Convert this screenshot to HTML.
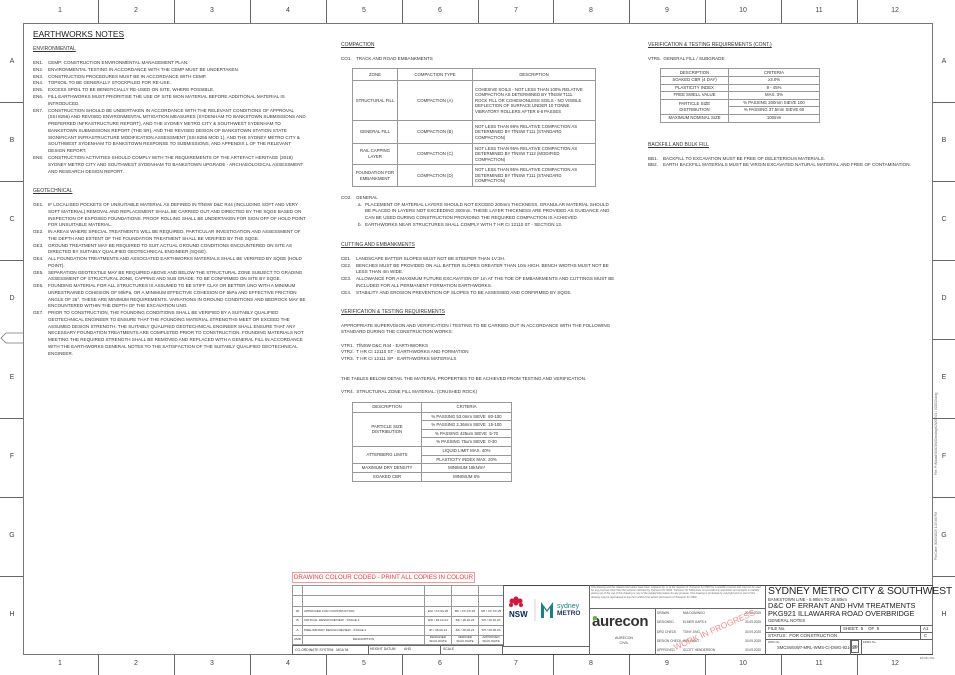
<!DOCTYPE html>
<html><head><meta charset="utf-8"><style>
*{margin:0;padding:0;box-sizing:border-box}
body{width:955px;height:675px;background:#fff;position:relative;overflow:hidden;font-family:"Liberation Sans",sans-serif;color:#333}
.a{position:absolute;white-space:nowrap}
.h{font-size:5px;text-decoration:underline}
.it{position:absolute;font-size:4.55px;line-height:6.75px;white-space:nowrap}
.it b{font-weight:normal;position:absolute;left:-15px}
.ln{position:absolute;background:#666}
table{border-collapse:collapse;position:absolute;font-size:4.3px;line-height:5.6px}
td{border:0.8px solid #999;text-align:center;vertical-align:middle;padding:0 2px}
td.l{text-align:left}
.rv{table-layout:fixed}
.rv td{white-space:nowrap;overflow:hidden;padding:0 1px}
.num{position:absolute;font-size:7px;color:#444;width:20px;text-align:center}
</style></head><body>
<div class="a" style="left:23px;top:23px;width:910px;height:632px;border:1.3px solid #777"></div>
<div class="ln" style="left:98px;top:0;width:1px;height:23px"></div><div class="ln" style="left:174px;top:0;width:1px;height:23px"></div><div class="ln" style="left:250px;top:0;width:1px;height:23px"></div><div class="ln" style="left:326px;top:0;width:1px;height:23px"></div><div class="ln" style="left:402px;top:0;width:1px;height:23px"></div><div class="ln" style="left:478px;top:0;width:1px;height:23px"></div><div class="ln" style="left:553px;top:0;width:1px;height:23px"></div><div class="ln" style="left:629px;top:0;width:1px;height:23px"></div><div class="ln" style="left:705px;top:0;width:1px;height:23px"></div><div class="ln" style="left:781px;top:0;width:1px;height:23px"></div><div class="ln" style="left:857px;top:0;width:1px;height:23px"></div>
<div class="ln" style="left:98px;top:655px;width:1px;height:20px"></div><div class="ln" style="left:174px;top:655px;width:1px;height:20px"></div><div class="ln" style="left:250px;top:655px;width:1px;height:20px"></div><div class="ln" style="left:326px;top:655px;width:1px;height:20px"></div><div class="ln" style="left:402px;top:655px;width:1px;height:20px"></div><div class="ln" style="left:478px;top:655px;width:1px;height:20px"></div><div class="ln" style="left:553px;top:655px;width:1px;height:20px"></div><div class="ln" style="left:629px;top:655px;width:1px;height:20px"></div><div class="ln" style="left:705px;top:655px;width:1px;height:20px"></div><div class="ln" style="left:781px;top:655px;width:1px;height:20px"></div><div class="ln" style="left:857px;top:655px;width:1px;height:20px"></div>
<div class="ln" style="left:0;top:102px;width:23px;height:1px"></div><div class="ln" style="left:0;top:181px;width:23px;height:1px"></div><div class="ln" style="left:0;top:260px;width:23px;height:1px"></div><div class="ln" style="left:0;top:418px;width:23px;height:1px"></div><div class="ln" style="left:0;top:497px;width:23px;height:1px"></div><div class="ln" style="left:0;top:576px;width:23px;height:1px"></div>
<div class="ln" style="left:933px;top:102px;width:22px;height:1px"></div><div class="ln" style="left:933px;top:181px;width:22px;height:1px"></div><div class="ln" style="left:933px;top:260px;width:22px;height:1px"></div><div class="ln" style="left:933px;top:339px;width:22px;height:1px"></div><div class="ln" style="left:933px;top:418px;width:22px;height:1px"></div><div class="ln" style="left:933px;top:497px;width:22px;height:1px"></div><div class="ln" style="left:933px;top:576px;width:22px;height:1px"></div>
<svg class="a" style="left:0;top:332px" width="24" height="12"><path d="M23 1 H6 L1 6 L6 11 H23" fill="none" stroke="#777" stroke-width="0.8"/></svg>
<div class="num" style="left:50px;top:7px">1</div><div class="num" style="left:126px;top:7px">2</div><div class="num" style="left:202px;top:7px">3</div><div class="num" style="left:278px;top:7px">4</div><div class="num" style="left:354px;top:7px">5</div><div class="num" style="left:430px;top:7px">6</div><div class="num" style="left:506px;top:7px">7</div><div class="num" style="left:581px;top:7px">8</div><div class="num" style="left:657px;top:7px">9</div><div class="num" style="left:733px;top:7px">10</div><div class="num" style="left:809px;top:7px">11</div><div class="num" style="left:885px;top:7px">12</div>
<div class="num" style="left:50px;top:660px">1</div><div class="num" style="left:126px;top:660px">2</div><div class="num" style="left:202px;top:660px">3</div><div class="num" style="left:278px;top:660px">4</div><div class="num" style="left:354px;top:660px">5</div><div class="num" style="left:430px;top:660px">6</div><div class="num" style="left:506px;top:660px">7</div><div class="num" style="left:581px;top:660px">8</div><div class="num" style="left:657px;top:660px">9</div><div class="num" style="left:733px;top:660px">10</div><div class="num" style="left:809px;top:660px">11</div><div class="num" style="left:885px;top:660px">12</div>
<div class="num" style="left:2px;top:58px">A</div><div class="num" style="left:2px;top:137px">B</div><div class="num" style="left:2px;top:216px">C</div><div class="num" style="left:2px;top:295px">D</div><div class="num" style="left:2px;top:374px">E</div><div class="num" style="left:2px;top:453px">F</div><div class="num" style="left:2px;top:532px">G</div><div class="num" style="left:2px;top:611px">H</div>
<div class="num" style="left:934px;top:58px">A</div><div class="num" style="left:934px;top:137px">B</div><div class="num" style="left:934px;top:216px">C</div><div class="num" style="left:934px;top:295px">D</div><div class="num" style="left:934px;top:374px">E</div><div class="num" style="left:934px;top:453px">F</div><div class="num" style="left:934px;top:532px">G</div><div class="num" style="left:934px;top:611px">H</div>
<div class="a" style="left:934px;font-size:3.2px;color:#666;transform:rotate(-90deg);transform-origin:0 0;top:475px">File: P:\Ndoad\SMCSW\Drawings\DWG 921 \ 921013.dwg</div>
<div class="a" style="left:934px;top:560px;font-size:3.2px;color:#666;transform:rotate(-90deg);transform-origin:0 0">Plot Date: 30/09/2025 1:25:46 PM</div>

<div class="a" style="left:33px;top:29px;font-size:8.4px;text-decoration:underline;color:#222">EARTHWORKS NOTES</div>
<div class="a h" style="left:33px;top:46px">ENVIRONMENTAL</div>
<div class="it" style="left:48px;top:60px"><b>EN1.</b>CEMP: CONSTRUCTION ENVIRONMENTAL MANAGEMENT PLAN.</div>
<div class="it" style="left:48px;top:66.8px"><b>EN2.</b>ENVIRONMENTAL TESTING IN ACCORDANCE WITH THE CEMP MUST BE UNDERTAKEN.</div>
<div class="it" style="left:48px;top:73.6px"><b>EN3.</b>CONSTRUCTION PROCEDURES MUST BE IN ACCORDANCE WITH CEMP.</div>
<div class="it" style="left:48px;top:80.4px"><b>EN4.</b>TOPSOIL TO BE GENERALLY STOCKPILED FOR RE-USE.</div>
<div class="it" style="left:48px;top:87.2px"><b>EN5.</b>EXCESS SPOIL TO BE BENEFICIALLY RE-USED ON SITE, WHERE POSSIBLE.</div>
<div class="it" style="left:48px;top:94px"><b>EN6.</b>FILL EARTHWORKS MUST PRIORITISE THE USE OF SITE WON MATERIAL BEFORE ADDITIONAL MATERIAL IS<br>INTRODUCED.</div>
<div class="it" style="left:48px;top:107.5px"><b>EN7.</b>CONSTRUCTION SHOULD BE UNDERTAKEN IN ACCORDANCE WITH THE RELEVANT CONDITIONS OF APPROVAL<br>(SSI 8256) AND REVISED ENVIRONMENTAL MITIGATION MEASURES (SYDENHAM TO BANKSTOWN SUBMISSIONS AND<br>PREFERRED INFRASTRUCTURE REPORT), AND THE SYDNEY METRO CITY &amp; SOUTHWEST SYDENHAM TO<br>BANKSTOWN SUBMISSIONS REPORT (THE SR), AND THE REVISED DESIGN OF BANKSTOWN STATION STATE<br>SIGNIFICANT INFRASTRUCTURE MODIFICATION ASSESSMENT (SSI 8256 MOD 1), AND THE SYDNEY METRO CITY &amp;<br>SOUTHWEST SYDENHAM TO BANKSTOWN RESPONSE TO SUBMISSIONS, AND APPENDIX L OF THE RELEVANT<br>DESIGN REPORT.</div>
<div class="it" style="left:48px;top:155px"><b>EN8.</b>CONSTRUCTION ACTIVITIES SHOULD COMPLY WITH THE REQUIREMENTS OF THE ARTEFACT HERITAGE (2018)<br>SYDNEY METRO CITY AND SOUTHWEST SYDENHAM TO BANKSTOWN UPGRADE - ARCHAEOLOGICAL ASSESSMENT<br>AND RESEARCH DESIGN REPORT.</div>
<div class="a h" style="left:33px;top:188px">GEOTECHNICAL</div>
<div class="it" style="left:48px;top:202px"><b>GE1.</b>IF LOCALISED POCKETS OF UNSUITABLE MATERIAL AS DEFINED IN TfNSW D&amp;C R44 (INCLUDING SOFT AND VERY<br>SOFT MATERIAL) REMOVAL AND REPLACEMENT SHALL BE CARRIED OUT AND DIRECTED BY THE SQGE BASED ON<br>INSPECTION OF EXPOSED FOUNDATIONS. PROOF ROLLING SHALL BE UNDERTAKEN FOR SIGN OFF OF HOLD POINT<br>FOR UNSUITABLE MATERIAL.</div>
<div class="it" style="left:48px;top:229px"><b>GE2.</b>IN AREAS WHERE SPECIAL TREATMENTS WILL BE REQUIRED, PARTICULAR INVESTIGATION AND ASSESSMENT OF<br>THE DEPTH AND EXTENT OF THE FOUNDATION TREATMENT SHALL BE VERIFIED BY THE SQGE.</div>
<div class="it" style="left:48px;top:242.5px"><b>GE3.</b>GROUND TREATMENT MAY BE REQUIRED TO SUIT ACTUAL GROUND CONDITIONS ENCOUNTERED ON SITE AS<br>DIRECTED BY SUITABLY QUALIFIED GEOTECHNICAL ENGINEER (SQGE).</div>
<div class="it" style="left:48px;top:256px"><b>GE4.</b>ALL FOUNDATION TREATMENTS AND ASSOCIATED EARTHWORKS MATERIALS SHALL BE VERIFIED BY SQGE (HOLD<br>POINT).</div>
<div class="it" style="left:48px;top:269.5px"><b>GE5.</b>SEPARATION GEOTEXTILE MAY BE REQUIRED ABOVE AND BELOW THE STRUCTURAL ZONE SUBJECT TO GRADING<br>ASSESSMENT OF STRUCTURAL ZONE, CAPPING AND SUB GRADE. TO BE CONFIRMED ON SITE BY SQGE.</div>
<div class="it" style="left:48px;top:283px"><b>GE6.</b>FOUNDING MATERIAL FOR ALL STRUCTURES IS ASSUMED TO BE STIFF CLAY OR BETTER UNO WITH A MINIMUM<br>UNRESTRAINED COHESION OF 50kPa, OR A MINIMUM EFFECTIVE COHESION OF 5kPa AND EFFECTIVE FRICTION<br>ANGLE OF 26°. THESE ARE MINIMUM REQUIREMENTS. VARIATIONS IN GROUND CONDITIONS AND BEDROCK MAY BE<br>ENCOUNTERED WITHIN THE DEPTH OF THE EXCAVATION UNO.</div>
<div class="it" style="left:48px;top:310px"><b>GE7.</b>PRIOR TO CONSTRUCTION, THE FOUNDING CONDITIONS SHALL BE VERIFIED BY A SUITABLY QUALIFIED<br>GEOTECHNICAL ENGINEER TO ENSURE THAT THE FOUNDING MATERIAL STRENGTHS MEET OR EXCEED THE<br>ASSUMED DESIGN STRENGTH. THE SUITABLY QUALIFIED GEOTECHNICAL ENGINEER SHALL ENSURE THAT ANY<br>NECESSARY FOUNDATION TREATMENTS ARE COMPLETED PRIOR TO CONSTRUCTION. FOUNDING MATERIALS NOT<br>MEETING THE REQUIRED STRENGTH SHALL BE REMOVED AND REPLACED WITH A GENERAL FILL IN ACCORDANCE<br>WITH THE EARTHWORKS GENERAL NOTES TO THE SATISFACTION OF THE SUITABLY QUALIFIED GEOTECHNICAL<br>ENGINEER.</div>

<div class="a h" style="left:341px;top:42px">COMPACTION</div>
<div class="it" style="left:356px;top:56px"><b>CO1.</b>TRACK AND ROAD EMBANKMENTS</div>
<table style="left:352px;top:68px;width:244px">
<tr style="height:12px"><td style="width:45px">ZONE</td><td style="width:75px">COMPACTION TYPE</td><td>DESCRIPTION</td></tr>
<tr style="height:40px"><td>STRUCTURAL FILL</td><td>COMPACTION (A)</td><td class="l">COHESIVE SOILS - NOT LESS THAN 100% RELATIVE<br>COMPACTION AS DETERMINED BY TfNSW T111.<br>ROCK FILL OR COHESIONLESS SOILS - NO VISIBLE<br>DEFLECTION OF SURFACE UNDER 10 TONNE<br>VIBRATORY ROLLERS AFTER 6-8 PASSES</td></tr>
<tr style="height:23px"><td>GENERAL FILL</td><td>COMPACTION (B)</td><td class="l">NOT LESS THAN 98% RELATIVE COMPACTION AS<br>DETERMINED BY TfNSW T111 (STANDARD<br>COMPACTION)</td></tr>
<tr style="height:21px"><td>RAIL CAPPING<br>LAYER</td><td>COMPACTION (C)</td><td class="l">NOT LESS THAN 95% RELATIVE COMPACTION AS<br>DETERMINED BY TfNSW T112 (MODIFIED<br>COMPACTION)</td></tr>
<tr style="height:22px"><td>FOUNDATION FOR<br>EMBANKMENT</td><td>COMPACTION (D)</td><td class="l">NOT LESS THAN 95% RELATIVE COMPACTION AS<br>DETERMINED BY TfNSW T111 (STANDARD<br>COMPACTION)</td></tr>
</table>
<div class="it" style="left:356px;top:195px"><b>CO2.</b>GENERAL</div>
<div class="it" style="left:365px;top:201.5px"><b style="left:-7px">a.</b>PLACEMENT OF  MATERIAL LAYERS SHOULD NOT EXCEED 200mm THICKNESS. GRANULAR MATERIAL SHOULD<br>BE PLACED IN LAYERS NOT EXCEEDING 300mm. THESE LAYER THICKNESS ARE PROVIDED AS GUIDANCE AND<br>CAN BE USED DURING CONSTRUCTION PROVIDING THE REQUIRED COMPACTION IS ACHIEVED.</div>
<div class="it" style="left:365px;top:221.5px"><b style="left:-7px">b.</b>EARTHWORKS NEAR STRUCTURES SHALL COMPLY WITH T HR CI 12110 ST - SECTION 13.</div>
<div class="a h" style="left:341px;top:242px">CUTTING AND EMBANKMENTS</div>
<div class="it" style="left:356px;top:256px"><b>CE1.</b>LANDSCAPE BATTER SLOPES MUST NOT BE  STEEPER THAN 1V:3H.</div>
<div class="it" style="left:356px;top:262.7px"><b>CE2.</b>BENCHES MUST BE PROVIDED ON ALL BATTER SLOPES GREATER THAN 10m HIGH. BENCH WIDTHS MUST NOT BE<br>LESS THAN 4m WIDE.</div>
<div class="it" style="left:356px;top:276px"><b>CE3.</b>ALLOWANCE FOR A MAXIMUM FUTURE EXCAVATION OF 1m AT THE TOE OF EMBANKMENTS AND CUTTINGS MUST BE<br>INCLUDED FOR ALL PERMANENT FORMATION EARTHWORKS.</div>
<div class="it" style="left:356px;top:289.5px"><b>CE4.</b>STABILITY AND EROSION PREVENTION OF SLOPES TO BE ASSESSED AND CONFIRMED BY SQGE.</div>
<div class="a h" style="left:341px;top:309px">VERIFICATION &amp; TESTING REQUIREMENTS</div>
<div class="it" style="left:341px;top:322.5px">APPROPRIATE SUPERVISION AND VERIFICATION / TESTING TO BE CARRIED OUT IN ACCORDANCE WITH THE FOLLOWING<br>STANDARD DURING THE CONSTRUCTION WORKS:</div>
<div class="it" style="left:341px;top:342.5px">VTR1.&nbsp; TfNSW D&amp;C R44 - EARTHWORKS<br>VTR2.&nbsp; T HR CI 12110 ST - EARTHWORKS AND FORMATION<br>VTR3.&nbsp; T HR CI 12111 SP - EARTHWORKS MATERIALS</div>
<div class="it" style="left:341px;top:376px">THE TABLES BELOW DETAIL THE MATERIAL PROPERTIES TO BE ACHIEVED FROM TESTING AND VERIFICATION.</div>
<div class="it" style="left:341px;top:389px">VTR4.&nbsp; STRUCTURAL ZONE FILL MATERIAL: (CRUSHED ROCK)</div>
<table style="left:352px;top:402px;width:160px">
<tr style="height:9.5px"><td style="width:69px">DESCRIPTION</td><td>CRITERIA</td></tr>
<tr style="height:8.6px"><td rowspan="4">PARTICLE SIZE<br>DISTRIBUTION</td><td>% PASSING 53.0mm SIEVE&nbsp; 80-100</td></tr>
<tr style="height:8.6px"><td>% PASSING 2.36mm SIEVE&nbsp; 15-100</td></tr>
<tr style="height:8.6px"><td>% PASSING 425um SIEVE&nbsp; 5-70</td></tr>
<tr style="height:8.6px"><td>% PASSING 75um SIEVE&nbsp; 0-30</td></tr>
<tr style="height:8.8px"><td rowspan="2">ATTERBERG LIMITS</td><td>LIQUID LIMIT MAX. 40%</td></tr>
<tr style="height:8.8px"><td>PLASTICITY INDEX MAX. 20%</td></tr>
<tr style="height:8.6px"><td>MAXIMUM DRY DENSITY</td><td>MINIMUM 18kN/m³</td></tr>
<tr style="height:8.6px"><td>SOAKED CBR</td><td>MINIMUM 8%</td></tr>
</table>

<div class="a h" style="left:648px;top:42px">VERIFICATION &amp; TESTING REQUIREMENTS (CONT.)</div>
<div class="it" style="left:648px;top:56px">VTR5.&nbsp; GENERAL FILL / SUBGRADE</div>
<table style="left:660px;top:68px;width:160px">
<tr style="height:8px"><td style="width:68px">DESCRIPTION</td><td>CRITERIA</td></tr>
<tr style="height:7.5px"><td>SOAKED CBR (4 DAY)</td><td>≥3.0%</td></tr>
<tr style="height:7.5px"><td>PLASTICITY INDEX</td><td>9 - 45%</td></tr>
<tr style="height:7.5px"><td>FREE SWELL VALUE</td><td>MAX. 3%</td></tr>
<tr style="height:7.5px"><td rowspan="2">PARTICLE SIZE<br>DISTRIBUTION</td><td>% PASSING 200mm SIEVE 100</td></tr>
<tr style="height:7.5px"><td>% PASSING 37.5mm SIEVE 60</td></tr>
<tr style="height:8px"><td>MAXIMUM NOMINAL SIZE</td><td>100mm</td></tr>
</table>
<div class="a h" style="left:648px;top:142px">BACKFILL AND BULK FILL</div>
<div class="it" style="left:663px;top:155.5px"><b>BB1.</b>BACKFILL TO EXCAVATION MUST BE FREE OF DELETERIOUS MATERIALS.</div>
<div class="it" style="left:663px;top:162.3px"><b>BB2.</b>EARTH BACKFILL MATERIALS MUST BE VIRGIN EXCAVATED NATURAL MATERIAL AND FREE OF CONTAMINATION.</div>

<!-- TITLE BLOCK -->
<div class="a" style="left:292px;top:572px;width:183px;height:11px;border:0.8px solid #f29a9a;color:#e53b3b;font-size:6.2px;line-height:9.5px;text-align:center">DRAWING COLOUR CODED - PRINT ALL COPIES IN COLOUR</div>
<div class="a" style="left:292px;top:585px;width:641px;height:70px;border:1px solid #444;border-right:none"></div>
<table class="rv" style="left:292px;top:585px;width:211px;font-size:3.1px;line-height:3.5px">
<tr style="height:10px"><td style="width:10px"></td><td style="width:122px"></td><td style="width:27px"></td><td style="width:27px"></td><td style="width:25px"></td></tr>
<tr style="height:11px"><td></td><td></td><td></td><td></td><td></td></tr>
<tr style="height:9.5px"><td>00</td><td class="l">APPROVED FOR CONSTRUCTION</td><td>ESI / XX.09.25</td><td>BK / XX.XX.25</td><td>SH / XX.XX.25</td></tr>
<tr style="height:9.5px"><td>B</td><td class="l">CRITICAL DESIGN REVIEW - STAGE 3</td><td>ESI / 18.10.24</td><td>BK / 18.10.24</td><td>SH / 18.10.24</td></tr>
<tr style="height:9.5px"><td>A</td><td class="l">PRELIMINARY DESIGN REVIEW - STAGE 2</td><td>JK / 28.06.24</td><td>BK / 28.06.24</td><td>SH / 28.06.24</td></tr>
<tr style="height:9.5px"><td>AMD</td><td>DESCRIPTION</td><td>DESIGNED<br>SIGN./DATE</td><td>VERIFIED<br>SIGN./DATE</td><td>APPROVED<br>SIGN./DATE</td></tr>
</table>
<div class="a" style="left:292px;top:645px;width:211px;height:10px;border:0.8px solid #666;font-size:3.4px;line-height:9px;padding-left:2px">CO-ORDINATE SYSTEM&nbsp;&nbsp; MGA 94</div>
<div class="a" style="left:370px;top:645px;font-size:3.4px;line-height:9px">HEIGHT DATUM &nbsp;&nbsp;&nbsp;&nbsp;&nbsp;&nbsp;&nbsp;&nbsp;AHD</div>
<div class="a" style="left:443px;top:645px;font-size:3.4px;line-height:9px">SCALE</div>
<div class="ln" style="left:368px;top:645px;width:0.8px;height:10px"></div><div class="ln" style="left:440px;top:645px;width:0.8px;height:10px"></div>
<div class="ln" style="left:503px;top:585px;width:1px;height:62px"></div>
<div class="ln" style="left:503px;top:646px;width:86px;height:1px"></div>
<div class="ln" style="left:589px;top:585px;width:1px;height:70px"></div>
<svg class="a" style="left:505px;top:596px" width="82" height="28">
<g fill="#d7153a"><circle cx="7" cy="5" r="2.5"/><circle cx="11" cy="3" r="2.5"/><circle cx="15" cy="5" r="2.5"/><circle cx="11" cy="7" r="2.5"/><circle cx="6" cy="9" r="2"/><circle cx="16" cy="9" r="2"/></g>
<text x="4" y="21" font-family="Liberation Sans" font-weight="bold" font-size="8" fill="#002664">NSW</text>
<line x1="30" y1="3" x2="30" y2="25" stroke="#bbb" stroke-width="0.6"/>
<path d="M36 22 V6 L42 14 L48 6 V22 H45 V12 L42 16 L39 12 V22Z" fill="#168388"/>
<text x="52" y="12" font-family="Liberation Sans" font-size="7" fill="#168388">sydney</text>
<text x="52" y="19" font-family="Liberation Sans" font-weight="bold" font-size="6.5" fill="#1f2e55">METRO</text>
</svg>
<div class="a" style="left:591px;top:586px;width:172px;font-size:2.6px;line-height:3.2px;color:#666;white-space:normal;font-style:italic">This drawing and the related information have been prepared by, or at the request of, Transport for NSW for a specific purpose and may not be used for any purpose other than the purpose intended by Transport for NSW. Transport for NSW does not provide any warranties and accepts no liability arising out of the use of this drawing or any of the related information for any purpose. This drawing is protected by copyright and no part of this drawing may be reproduced in any form without the written permission of Transport for NSW.</div>
<div class="ln" style="left:589px;top:608px;width:176px;height:0.8px"></div>
<div class="a" style="left:592px;top:613px;font-size:15px;font-weight:bold;color:#333;letter-spacing:-0.3px">aurecon</div>
<div class="a" style="left:593px;top:616px;width:3.5px;height:3.5px;background:#6ab42d;border-radius:50%"></div>
<div class="a" style="left:615px;top:636px;font-size:3.6px;line-height:5px;text-align:center;color:#444">AURECON<br>CIVIL</div>
<div class="ln" style="left:655px;top:608px;width:0.8px;height:47px"></div>
<div class="a" style="left:657px;top:609px;font-size:3.2px;line-height:9.3px;color:#444">DRAWN<br>DESIGNED<br>DRG CHECK<br>DESIGN CHECK<br>APPROVED</div>
<div class="a" style="left:683px;top:609px;font-size:3.2px;line-height:9.3px;color:#444">MIA DOMINGO<br>ELMER GAPS II<br>TONY JING<br>WEI ZHAO<br>SCOTT HENDERSON</div>
<div class="a" style="left:745px;top:609px;font-size:3.2px;line-height:9.3px;color:#444">30.09.2025<br>30.09.2025<br>30.09.2025<br>30.09.2025<br>30.09.2025</div>
<div class="a" style="left:672px;font-size:8.5px;color:#f07a7a;transform:rotate(-24deg);transform-origin:0 0;top:643px;opacity:.85">WORK IN PROGRESS</div>
<div class="ln" style="left:765px;top:585px;width:1px;height:70px"></div>
<div class="a" style="left:768px;top:586px;font-size:10.4px;color:#222;letter-spacing:-0.15px">SYDNEY METRO CITY &amp; SOUTHWEST</div>
<div class="a" style="left:768px;top:597px;font-size:4.2px;color:#333">BANKSTOWN LINE - 5.90km TO 18.60km</div>
<div class="a" style="left:768px;top:602px;font-size:7.4px;line-height:8px;color:#222">D&amp;C OF ERRANT AND HVM TREATMENTS<br>PKG921 ILLAWARRA ROAD OVERBRIDGE</div>
<div class="a" style="left:768px;top:618px;font-size:4.4px;color:#333">GENERAL NOTES</div>
<div class="ln" style="left:765px;top:625px;width:168px;height:0.8px"></div>
<div class="ln" style="left:765px;top:632px;width:168px;height:0.8px"></div>
<div class="ln" style="left:765px;top:639px;width:168px;height:0.8px"></div>
<div class="a" style="left:768px;top:626px;font-size:4.4px;color:#333">FILE No.</div>
<div class="ln" style="left:840px;top:625px;width:0.8px;height:7px"></div>
<div class="a" style="left:843px;top:626px;font-size:4.4px;color:#333">SHEET: &nbsp;5 &nbsp;&nbsp;&nbsp;OF &nbsp;9</div>
<div class="ln" style="left:920px;top:625px;width:0.8px;height:14px"></div>
<div class="a" style="left:923px;top:626px;font-size:4.4px;color:#333">A1</div>
<div class="a" style="left:768px;top:633px;font-size:4.6px;color:#333">STATUS: &nbsp;FOR CONSTRUCTION</div>
<div class="a" style="left:924px;top:633px;font-size:4.2px;color:#333">C</div>
<div class="a" style="left:768px;top:640px;font-size:2.8px;color:#444">DWG No.</div>
<div class="a" style="left:777px;top:645px;font-size:4.2px;color:#333">SMCSWSW7-MRL-WMS-CI-DWG-921013</div>
<div class="ln" style="left:850px;top:639px;width:0.8px;height:16px"></div>
<div class="a" style="left:851px;top:640px;width:8px;height:13px;border:0.6px solid #666;font-size:4.6px;text-align:center;line-height:12px">00</div>
<div class="ln" style="left:861px;top:639px;width:0.8px;height:16px"></div>
<div class="a" style="left:863px;top:640px;font-size:2.8px;color:#444">EDMS No.</div>
<div class="a" style="left:920px;top:657px;font-size:2.6px;color:#666">EP-921-TD4</div>
</body></html>
